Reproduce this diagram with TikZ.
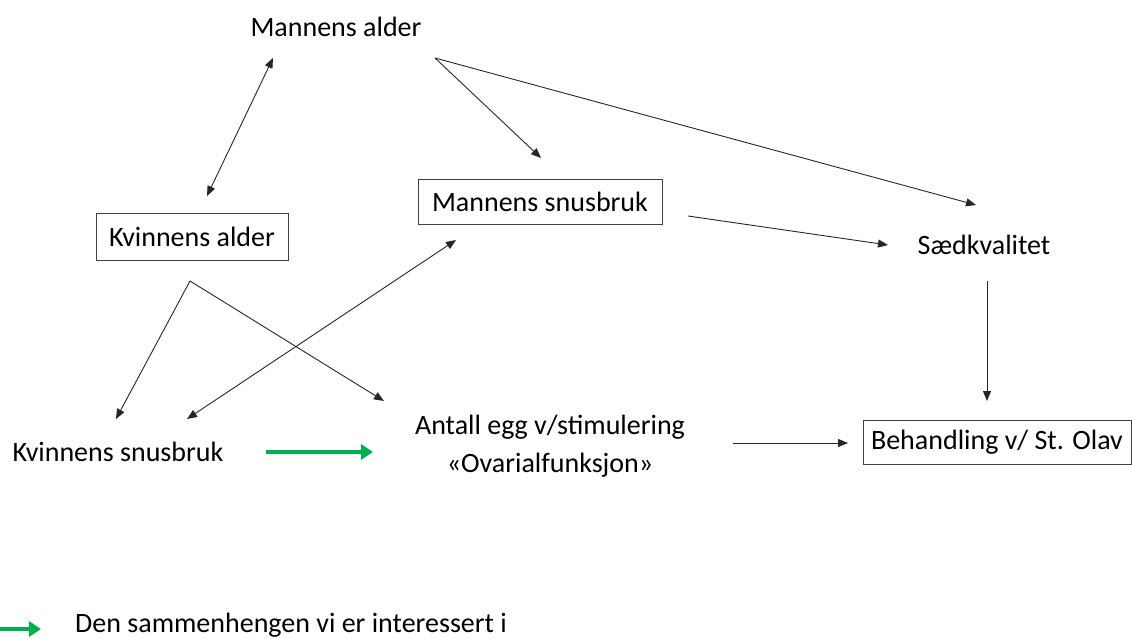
\documentclass[tikz,border=0pt]{standalone}
\usepackage{fontspec}
\setmainfont{Carlito}
\usetikzlibrary{arrows.meta}
\definecolor{offgreen}{RGB}{0,176,80}
\tikzset{
  lbl/.style={font=\fontsize{28}{34}\selectfont, inner sep=0pt, align=center},
  boxed/.style={draw=black!75, line width=1pt, inner sep=0pt, minimum height=44pt},
  arr/.style={draw=black!85, line width=0.9pt, -{Triangle[length=10pt,width=8pt]}},
  darr/.style={draw=black!85, line width=0.9pt, {Triangle[length=10pt,width=8pt]}-{Triangle[length=10pt,width=8pt]}},
  garr/.style={draw=offgreen, line width=4pt, -{Triangle[length=12pt,width=15pt]}}
}
\begin{document}
\begin{tikzpicture}[x=1pt,y=-1pt]
\useasboundingbox (0,0) rectangle (1132,639);
% nodes
\node[lbl] (ma) at (336,27) {Mannens alder};
\node[lbl,boxed,minimum width=244pt] (ms) at (540,202) {Mannens snusbruk};
\node[lbl,boxed,minimum width=192pt,minimum height=47pt] (ka) at (192,237) {Kvinnens alder};
\node[lbl] (sk) at (984,245) {Sædkvalitet};
\node[lbl] (ks) at (118,452) {Kvinnens snusbruk};
\node[lbl,font=\fontsize{28}{38}\selectfont] (ae) at (550,446) {Antall egg v/stimulering\\«Ovarialfunksjon»};
\node[lbl,boxed,minimum width=268pt] (bh) at (997,442) {Behandling v/ St. Olav};
\node[lbl,anchor=west] (leg) at (75,625) {Den sammenhengen vi er interessert i};
% endpoints
\coordinate (p1) at (273,58);
\coordinate (p2) at (207,196);
\coordinate (p3) at (435,58);
\coordinate (p4) at (541,158);
\coordinate (p5) at (976,205);
\coordinate (p6) at (688,216);
\coordinate (p7) at (888,245);
\coordinate (p8) at (987,281);
\coordinate (p9) at (987,401);
\coordinate (p10) at (190,281);
\coordinate (p11) at (116,419);
\coordinate (p12) at (384,401);
\coordinate (p13) at (456,240);
\coordinate (p14) at (187,419);
\coordinate (p15) at (733,443);
\coordinate (p16) at (848,443);
\coordinate (g1) at (266,452);
\coordinate (g2) at (373,452);
\coordinate (g3) at (0,629);
\coordinate (g4) at (41,629);
% connectors
\draw[darr] (p2) -- (p1);
\draw[arr] (p3) -- (p4);
\draw[arr] (p3) -- (p5);
\draw[arr] (p6) -- (p7);
\draw[arr] (p8) -- (p9);
\draw[arr] (p10) -- (p11);
\draw[arr] (p10) -- (p12);
\draw[darr] (p14) -- (p13);
\draw[arr] (p15) -- (p16);
\draw[garr] (g1) -- (g2);
\draw[garr] (g3) -- (g4);
\end{tikzpicture}
\end{document}
